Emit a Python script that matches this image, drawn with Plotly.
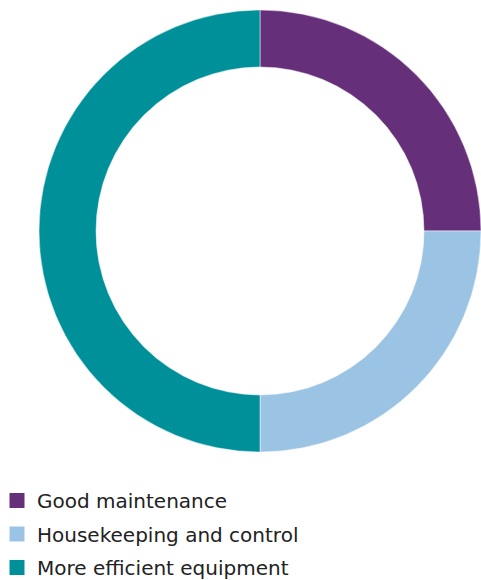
import plotly.graph_objects as go

labels = ["Good maintenance", "Housekeeping and control", "More efficient equipment"]
values = [25, 25, 50]
colors = ["#652F7A", "#9BC4E4", "#00909A"]

fig = go.Figure()
fig.add_trace(go.Pie(
    labels=labels, values=values, sort=False, direction="clockwise", rotation=0,
    hole=0.742, textinfo="none", hoverinfo="label+percent",
    marker=dict(colors=colors, line=dict(color="white", width=0.5)),
    domain=dict(x=[39/481, 1], y=[(580-452)/580, (580-10)/580]),
    showlegend=False,
))
for lab, col in zip(labels, colors):
    fig.add_trace(go.Scatter(
        x=[None], y=[None], mode="markers", name=lab, legendgroup=lab,
        marker=dict(symbol="square", size=15, color=col),
    ))

fig.update_layout(
    width=481, height=580, margin=dict(l=0, r=0, t=0, b=0, autoexpand=False),
    paper_bgcolor="white", plot_bgcolor="white",
    xaxis=dict(visible=False), yaxis=dict(visible=False),
    font=dict(family="DejaVu Sans", size=20, color="#222222"),
    legend=dict(x=-3/481, xanchor="left", y=-7/580, yanchor="bottom",
                tracegroupgap=4.5, itemwidth=30, bgcolor="rgba(0,0,0,0)"),
)
fig.write_html("out.html")
